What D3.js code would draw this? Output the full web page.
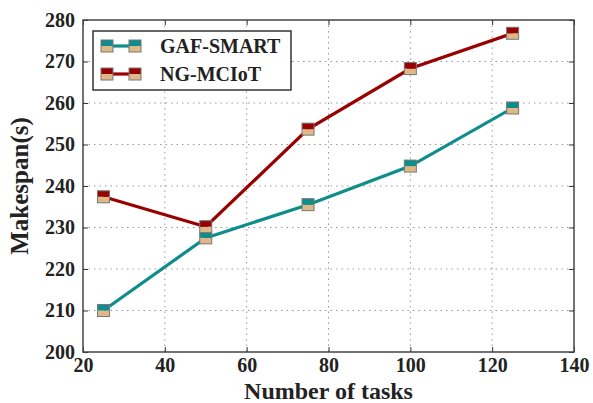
<!DOCTYPE html>
<html>
<head>
<meta charset="utf-8">
<script src="https://cdn.jsdelivr.net/npm/d3@7"></script>
<style>
  body { margin: 0; background: #fff; }
  svg text { font-family: "Liberation Serif", "DejaVu Serif", serif; font-weight: bold; fill: #222; }
</style>
</head>
<body>
<div id="chart"></div>
<script>
// data
var tasks = [25, 50, 75, 100, 125];
var gafSmart = [210, 227.5, 235.5, 244.8, 258.8];
var ngMciot = [237.4, 230.2, 253.7, 268.3, 276.8];
var seriesNames = ['GAF-SMART', 'NG-MCIoT'];
var seriesColors = ['#0f8c8c', '#990000'];
var xTicks = [20, 40, 60, 80, 100, 120, 140];
var yTicks = [200, 210, 220, 230, 240, 250, 260, 270, 280];

var width = 593, height = 403;
var margin = {top: 20, right: 19, bottom: 51, left: 83};
var w = width - margin.left - margin.right,
    h = height - margin.top - margin.bottom;

var svg = d3.select('#chart').append('svg')
    .attr('width', width)
    .attr('height', height);

var g = svg.append('g').attr('transform', 'translate(' + margin.left + ',' + margin.top + ')');

var x = d3.scaleLinear().domain([20, 140]).range([0, w]);
var y = d3.scaleLinear().domain([200, 280]).range([h, 0]);

// dotted grid
g.selectAll('.gx').data(xTicks.slice(1, -1)).enter().append('line')
    .attr('x1', d => x(d)).attr('x2', d => x(d))
    .attr('y1', 0).attr('y2', h)
    .attr('stroke', '#999').attr('stroke-width', 1).attr('stroke-dasharray', '1.5,4');
g.selectAll('.gy').data(yTicks.slice(1, -1)).enter().append('line')
    .attr('y1', d => y(d)).attr('y2', d => y(d))
    .attr('x1', 0).attr('x2', w)
    .attr('stroke', '#999').attr('stroke-width', 1).attr('stroke-dasharray', '1.5,4');

// axes, ticks pointing in
var tickLen = 5;
g.append('g').attr('transform', 'translate(0,' + h + ')')
    .call(d3.axisBottom(x).tickValues(xTicks).tickSizeInner(-tickLen).tickSizeOuter(0).tickPadding(6))
    .call(a => a.select('.domain').remove());
g.append('g')
    .call(d3.axisTop(x).tickValues(xTicks).tickSizeInner(-tickLen).tickSizeOuter(0).tickFormat(''))
    .call(a => a.select('.domain').remove());
g.append('g')
    .call(d3.axisLeft(y).tickValues(yTicks).tickSizeInner(-tickLen).tickSizeOuter(0).tickPadding(8))
    .call(a => a.select('.domain').remove());
g.append('g').attr('transform', 'translate(' + w + ',0)')
    .call(d3.axisRight(y).tickValues(yTicks).tickSizeInner(-tickLen).tickSizeOuter(0).tickFormat(''))
    .call(a => a.select('.domain').remove());

g.selectAll('.tick line').attr('stroke', '#333');
g.selectAll('.tick text').style('font-size', '20px').attr('fill', '#222');

g.append('rect').attr('width', w).attr('height', h)
    .attr('fill', 'none').attr('stroke', '#444').attr('stroke-width', 1.5);

// axis labels
svg.append('text')
    .attr('x', margin.left + w / 2).attr('y', 399)
    .attr('text-anchor', 'middle').style('font-size', '24px')
    .text('Number of tasks');
svg.append('text')
    .attr('transform', 'translate(28,' + (margin.top + h / 2) + ') rotate(-90)')
    .attr('text-anchor', 'middle').style('font-size', '25px')
    .text('Makespan(s)');

// two-tone square markers (top half colour, bottom half tan)
var ms = 12;
function marker(sel, cx, cy, color) {
    var m = sel.append('g').attr('transform', 'translate(' + cx + ',' + cy + ')');
    m.append('rect').attr('x', -ms / 2).attr('y', 0).attr('width', ms).attr('height', ms / 2).attr('fill', '#deb887');
    m.append('rect').attr('x', -ms / 2).attr('y', -ms / 2).attr('width', ms).attr('height', ms / 2).attr('fill', color);
    m.append('rect').attr('x', -ms / 2).attr('y', -ms / 2).attr('width', ms).attr('height', ms)
        .attr('fill', 'none').attr('stroke', '#777').attr('stroke-width', 1);
}

var line = d3.line().x(d => x(d[0])).y(d => y(d[1]));
[gafSmart, ngMciot].forEach(function(vals, si) {
    var pts = tasks.map((t, i) => [t, vals[i]]);
    g.append('path').datum(pts).attr('d', line)
        .attr('fill', 'none').attr('stroke', seriesColors[si]).attr('stroke-width', 3.2);
    pts.forEach(p => marker(g, x(p[0]), y(p[1]), seriesColors[si]));
});

// legend
var lg = svg.append('g').attr('transform', 'translate(93,31)');
lg.append('rect').attr('width', 198).attr('height', 59)
    .attr('fill', '#fff').attr('stroke', '#333').attr('stroke-width', 1.5);
seriesNames.forEach(function(name, i) {
    var ly = 15 + i * 28;
    lg.append('line').attr('x1', 14).attr('x2', 42).attr('y1', ly).attr('y2', ly)
        .attr('stroke', seriesColors[i]).attr('stroke-width', 3.2);
    marker(lg, 14, ly, seriesColors[i]);
    marker(lg, 42, ly, seriesColors[i]);
    lg.append('text').attr('x', 67).attr('y', ly + 7)
        .style('font-size', '20px').text(name);
});
</script>
</body>
</html>
